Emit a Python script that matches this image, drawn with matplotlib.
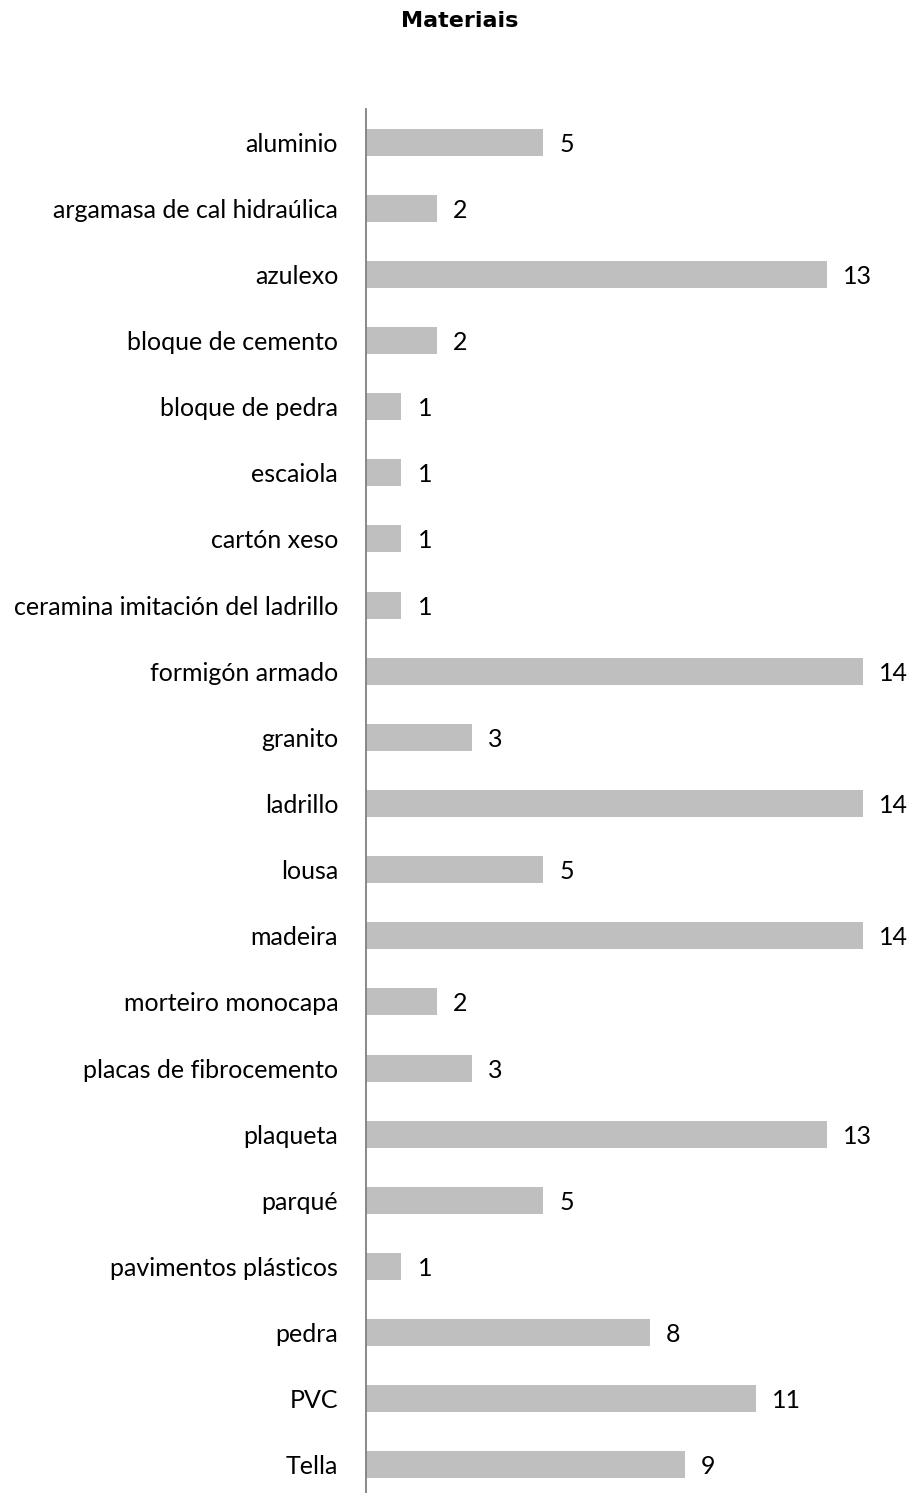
import matplotlib
matplotlib.use("Agg")
import matplotlib.pyplot as plt

materials = ["aluminio", "argamasa de cal hidraúlica", "azulexo", "bloque de cemento",
             "bloque de pedra", "escaiola", "cartón xeso", "ceramina imitación del ladrillo",
             "formigón armado", "granito", "ladrillo", "lousa", "madeira",
             "morteiro monocapa", "placas de fibrocemento", "plaqueta", "parqué",
             "pavimentos plásticos", "pedra", "PVC", "Tella"]
counts = [5, 2, 13, 2, 1, 1, 1, 1, 14, 3, 14, 5, 14, 2, 3, 13, 5, 1, 8, 11, 9]

W, H = 909, 1493
fig = plt.figure(figsize=(W / 100, H / 100), dpi=100)
# axes box spans a bit below the figure edge, like the original
ax = fig.add_axes([366 / W, 1 - 1498 / H, (898 - 366) / W, (1498 - 109) / H])

pos = list(range(len(materials)))
ax.barh(pos, counts, height=0.41, color="#bfbfbf")
ax.set_ylim(len(materials) - 0.5, -0.5)
ax.set_xlim(0, 15)

ax.set_yticks(pos)
ax.set_yticklabels(materials, fontsize=18, family="Lato", color="#000000")
ax.tick_params(axis="y", length=0, pad=20)
ax.set_xticks([])

for side in ["top", "right", "bottom"]:
    ax.spines[side].set_visible(False)
ax.spines["left"].set_color("#808080")
ax.spines["left"].set_linewidth(1.3)

for p, c in zip(pos, counts):
    ax.annotate(str(c), (c, p), xytext=(16, -2), textcoords="offset pixels",
                va="center", ha="left", fontsize=18, family="Lato")

fig.text(460 / W, 1 - 21 / H, "Materiais", ha="center", va="center",
         fontsize=16, fontweight="bold", family="DejaVu Sans")

fig.savefig("out.png", dpi=100)
